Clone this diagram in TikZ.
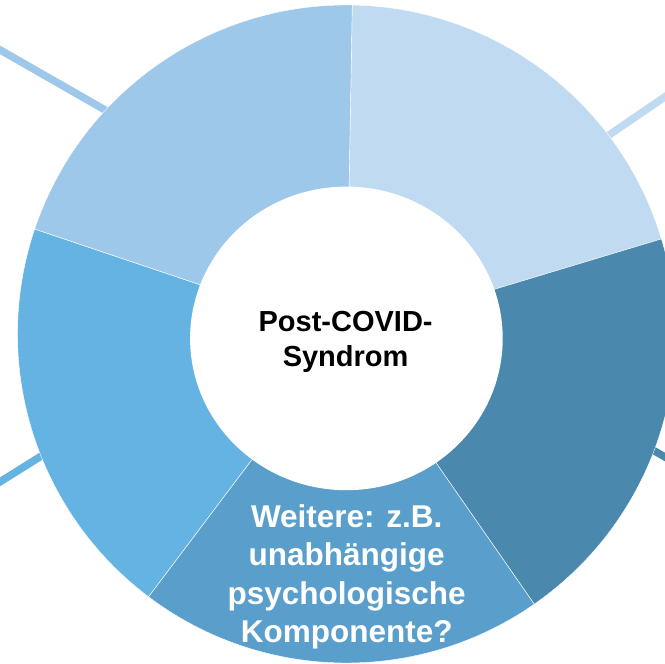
\documentclass[tikz,border=0pt]{standalone}
\usepackage{fontspec}
\setmainfont{Liberation Sans}
\definecolor{segA}{HTML}{C0DAF1}
\definecolor{segB}{HTML}{4A88AE}
\definecolor{segC}{HTML}{5A9FCC}
\definecolor{segD}{HTML}{65B3E3}
\definecolor{segE}{HTML}{9DC8EA}
\tikzset{
  segment/.style={draw=white, line width=0.4pt},
  stub/.style={line width=7.5pt},
  hubtext/.style={align=center, text=black, inner sep=0pt,
    font=\fontsize{29pt}{35pt}\selectfont\bfseries},
  segtext/.style={align=center, text=white, inner sep=0pt,
    font=\fontsize{31.5pt}{38.5pt}\selectfont\bfseries}
}
\begin{document}
\begin{tikzpicture}[x=1pt,y=1pt]
\useasboundingbox (0,0) rectangle (665,664);
\clip (0,0) rectangle (665,664);
% connector stubs (to labels outside the picture)
\coordinate (tlA) at (-5,617);
\coordinate (tlB) at (140,534);
\coordinate (trA) at (672,572);
\coordinate (trB) at (590,516);
\coordinate (blA) at (-5,179);
\coordinate (blB) at (70,226);
\coordinate (brA) at (672,203);
\coordinate (brB) at (630,227);
\draw[stub, segE] (tlA) -- (tlB);
\draw[stub, segA] (trA) -- (trB);
\draw[stub, segD] (blA) -- (blB);
\draw[stub, segB] (brA) -- (brB);
% ring segments
\coordinate (O) at (346.5,330);
\fill[segA, segment] (O) -- +(16.8:329pt) arc[start angle=16.8, end angle=89, radius=329pt] -- cycle;
\fill[segB, segment] (O) -- +(-55.2:329pt) arc[start angle=-55.2, end angle=16.8, radius=329pt] -- cycle;
\fill[segC, segment] (O) -- +(-127:329pt) arc[start angle=-127, end angle=-55.2, radius=329pt] -- cycle;
\fill[segD, segment] (O) -- +(-198.6:329pt) arc[start angle=-198.6, end angle=-127, radius=329pt] -- cycle;
\fill[segE, segment] (O) -- +(89:329pt) arc[start angle=89, end angle=161.4, radius=329pt] -- cycle;
% hub
\fill[white] (346.4,325.6) ellipse [x radius=156.3pt, y radius=151.8pt];
\node[hubtext] (hub) at (345.6,322.2) {Post-COVID-\\Syndrom};
\node[segtext] (weitere) at (346.7,87.2) {Weitere: z.B.\\unabhängige\\psychologische\\Komponente?};
\end{tikzpicture}
\end{document}
